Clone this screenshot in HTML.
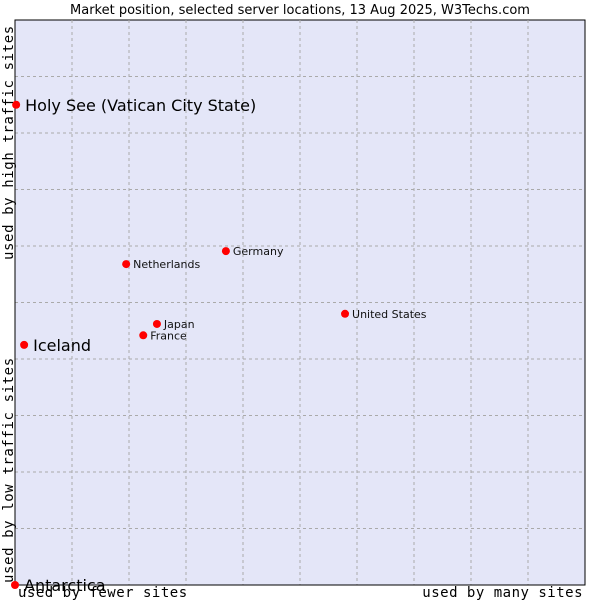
<!DOCTYPE html>
<html><head><meta charset="utf-8"><style>
body{margin:0;background:#fff;width:600px;height:600px;overflow:hidden}
svg{display:block;font-family:"DejaVu Sans","Liberation Sans",sans-serif}
</style></head><body>
<svg id="c" width="600" height="600">
<text x="300" y="14" text-anchor="middle" font-size="13" fill="#000">Market position, selected server locations, 13 Aug 2025, W3Techs.com</text>
<rect x="15" y="20" width="570" height="565" fill="#e4e6f8" stroke="#000" stroke-width="1"/>
<g id="grid"></g>
<line x1="15" y1="20" x2="15" y2="585" stroke="#000"/>
<line x1="15" y1="585" x2="585" y2="585" stroke="#000"/>
<g id="pts"></g>
<text x="18" y="597" font-family="DejaVu Sans Mono,monospace" font-size="14" letter-spacing="0.5">used by fewer sites</text>
<text x="583" y="597" text-anchor="end" font-family="DejaVu Sans Mono,monospace" font-size="14" letter-spacing="0.5">used by many sites</text>
<text transform="translate(13,583) rotate(-90)" font-family="DejaVu Sans Mono,monospace" font-size="14" letter-spacing="0.6">used by low traffic sites</text>
<text transform="translate(13,260) rotate(-90)" font-family="DejaVu Sans Mono,monospace" font-size="14" letter-spacing="0.6">used by high traffic sites</text>
</svg>
<script>
const names=["Holy See (Vatican City State)","Iceland","Antarctica","Netherlands","Germany","Japan","France","United States"];
const xVals=[0.02,0.16,0,1.95,3.7,2.49,2.25,5.79];
const yVals=[8.5,4.25,0,5.68,5.91,4.62,4.42,4.80];
const big=[true,true,true,false,false,false,false,false];
const NS="http://www.w3.org/2000/svg";
const X=v=>15+v*57, Y=v=>585-v*56.5;
const g=document.getElementById('grid');
for(let i=1;i<10;i++){
 let l=document.createElementNS(NS,'line');
 l.setAttribute('x1',X(i));l.setAttribute('x2',X(i));l.setAttribute('y1',20);l.setAttribute('y2',585);
 l.setAttribute('stroke','#aaa');l.setAttribute('stroke-dasharray','3,3');
 
 
 g.appendChild(l);
 let m=document.createElementNS(NS,'line');
 m.setAttribute('y1',Y(i));m.setAttribute('y2',Y(i));m.setAttribute('x1',15);m.setAttribute('x2',585);
 m.setAttribute('stroke','#aaa');m.setAttribute('stroke-dasharray','3,3');
 
 
 g.appendChild(m);
}
const p=document.getElementById('pts');
names.forEach((n,i)=>{
 const cx=X(xVals[i]),cy=Y(yVals[i]);
 let c=document.createElementNS(NS,'circle');
 c.setAttribute('cx',cx);c.setAttribute('cy',cy);c.setAttribute('r',4);c.setAttribute('fill','#f00');
 
 
 p.appendChild(c);
 let t=document.createElementNS(NS,'text');
 t.setAttribute('x',cx+(big[i]?9:7));t.setAttribute('y',cy+(big[i]?6:4));
 t.setAttribute('font-size',big[i]?16:11);t.setAttribute('fill',big[i]?'#000':'#111');
 t.textContent=n;
 
 
 p.appendChild(t);
});
</script>
</body></html>
